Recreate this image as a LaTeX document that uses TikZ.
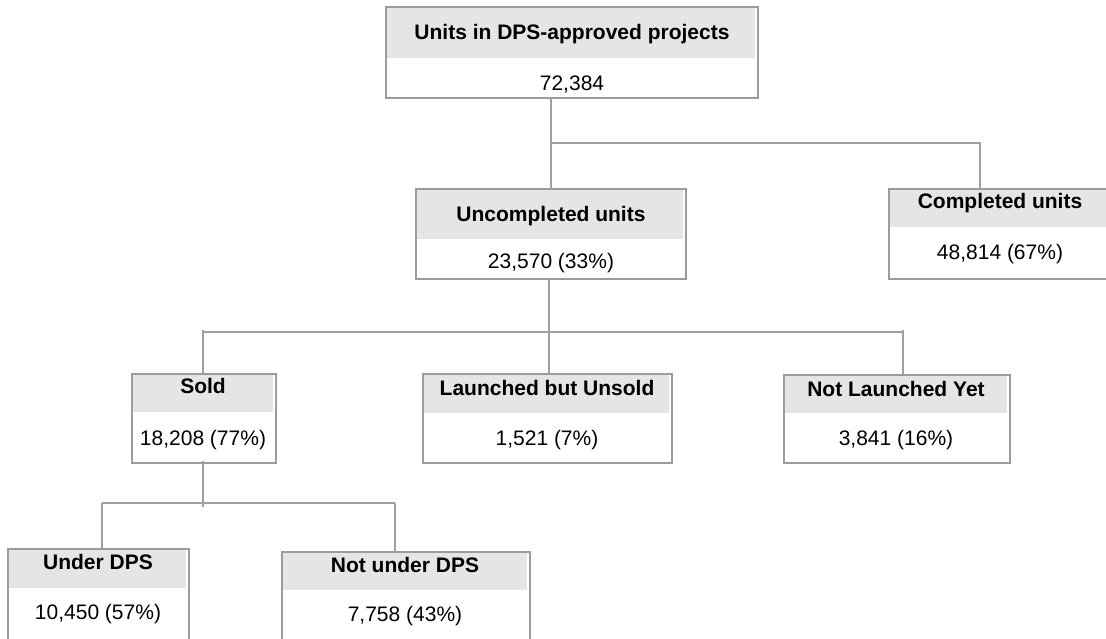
\documentclass[tikz,border=0pt]{standalone}
\usepackage{fontspec}
\setmainfont{Liberation Sans}
\begin{document}
\begin{tikzpicture}[x=1pt,y=-1pt,
  boxframe/.style={draw=frameclr, line width=1.5pt, rectangle, inner sep=0pt, outer sep=0pt, anchor=north west},
  hdr/.style={fill=hdrclr},
  link/.style={draw=linkclr, line width=1.4pt},
  ttl/.style={anchor=base, inner sep=0pt, font=\fontsize{21}{25}\selectfont\bfseries},
  val/.style={anchor=base, inner sep=0pt, font=\fontsize{21}{25}\selectfont},
]
\definecolor{frameclr}{HTML}{9C9C9C}
\definecolor{linkclr}{HTML}{A0A0A0}
\definecolor{hdrclr}{HTML}{E5E5E5}
\useasboundingbox[fill=white] (0,0) rectangle (1106,639);

% box: name, left, top, right, bottom, bottom of the grey title band
\newcommand\chartbox[6]{%
  \fill[hdr] (#2,#3) rectangle (#4-3,#6);
  \node[boxframe, minimum width={#4-#2}, minimum height={#5-#3}] (#1) at (#2,#3) {};
}

\chartbox{top}{386}{7}{758}{98}{58}
\chartbox{unc}{416}{189}{686}{279}{239}
\chartbox{comp}{889}{189}{1112}{279}{227}
\chartbox{sold}{132}{374}{276}{463}{412}
\chartbox{launch}{423}{374}{672}{463}{413}
\chartbox{notl}{784}{375}{1010}{463}{413}
\chartbox{under}{8}{549}{189}{660}{588}
\chartbox{notu}{282}{552}{530}{660}{590}

% titles and figures
\node[ttl] (top-t) at (572,40) {Units in DPS-approved projects};
\node[val] (top-v) at (572,90.5) {72,384};
\node[ttl] (unc-t) at (551,221.5) {Uncompleted units};
\node[val] (unc-v) at (551,269) {23,570 (33\%)};
\node[ttl] (comp-t) at (1000,208.5) {Completed units};
\node[val] (comp-v) at (1000,260) {48,814 (67\%)};
\node[ttl] (sold-t) at (203,393.5) {Sold};
\node[val] (sold-v) at (203,445) {18,208 (77\%)};
\node[ttl] (launch-t) at (547,395) {Launched but Unsold};
\node[val] (launch-v) at (547,445) {1,521 (7\%)};
\node[ttl] (notl-t) at (896,396.5) {Not Launched Yet};
\node[val] (notl-v) at (896,445) {3,841 (16\%)};
\node[ttl] (under-t) at (98,569.5) {Under DPS};
\node[val] (under-v) at (98,619.5) {10,450 (57\%)};
\node[ttl] (notu-t) at (405,572.5) {Not under DPS};
\node[val] (notu-v) at (405,621.5) {7,758 (43\%)};

% first level: all units split into uncompleted / completed
\coordinate (b1) at (551,143);
\coordinate (b1r) at (980,143);
\draw[link] (top.south -| b1) -- (unc.north -| b1);
\draw[link] (b1) -- (b1r) -- (comp.north -| b1r);

% second level: uncompleted units
\coordinate (b2l) at (203,332);
\coordinate (b2m) at (549,332);
\coordinate (b2r) at (903,332);
\draw[link] (unc.south -| b2m) -- (launch.north -| b2m);
\draw[link] (b2l) -- (b2r);
\draw[link] ([yshift=2pt]b2l) -- (sold.north -| b2l);
\draw[link] ([yshift=2pt]b2r) -- (notl.north -| b2r);

% third level: sold units
\coordinate (b3m) at (203,503);
\coordinate (b3l) at (102,503);
\coordinate (b3r) at (395,503);
\draw[link] ([yshift=2pt]sold.south -| b3m) -- ([yshift=-4pt]b3m);
\draw[link] (b3l) -- (b3r);
\draw[link] (b3l) -- (under.north -| b3l);
\draw[link] (b3r) -- (notu.north -| b3r);
\end{tikzpicture}
\end{document}
